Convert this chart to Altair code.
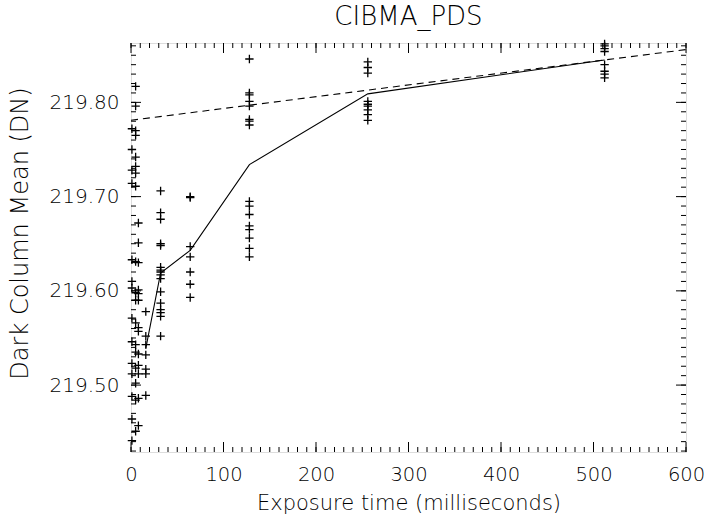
import altair as alt
import pandas as pd

# ---- data ----
exp_1 = [219.772, 219.750, 219.728, 219.714, 219.633, 219.610, 219.603, 219.571,
         219.546, 219.523, 219.512, 219.488, 219.464, 219.441]
exp_5 = [219.817, 219.796, 219.770, 219.765, 219.742, 219.732, 219.725, 219.711,
         219.631, 219.598, 219.590, 219.566, 219.543, 219.535, 219.518, 219.502,
         219.484, 219.451]
exp_8 = [219.672, 219.651, 219.630, 219.601, 219.597, 219.590, 219.561, 219.557,
         219.533, 219.521, 219.512, 219.486, 219.457]
exp_16 = [219.578, 219.552, 219.543, 219.532, 219.517, 219.512, 219.489]
exp_32 = [219.706, 219.683, 219.676, 219.650, 219.648, 219.625, 219.622, 219.620,
          219.617, 219.613, 219.599, 219.587, 219.580, 219.577, 219.573, 219.552]
exp_64 = [219.700, 219.699, 219.647, 219.636, 219.620, 219.607, 219.593]
exp_128 = [219.846, 219.810, 219.808, 219.801, 219.796, 219.782, 219.780, 219.776,
           219.695, 219.690, 219.681, 219.669, 219.665, 219.656, 219.645, 219.636]
exp_256 = [219.843, 219.837, 219.831, 219.801, 219.798, 219.796, 219.792, 219.787,
           219.781]
exp_512 = [219.862, 219.860, 219.857, 219.854, 219.840, 219.833, 219.830, 219.826]

groups = {1: exp_1, 5: exp_5, 8: exp_8, 16: exp_16, 32: exp_32, 64: exp_64,
          128: exp_128, 256: exp_256, 512: exp_512}

mean_t = [16, 32, 64, 128, 256, 512]
mean_v = [219.539, 219.619, 219.643, 219.734, 219.809, 219.845]

fit_t = [0, 600]
fit_v = [219.781, 219.856]

x_major = [0, 100, 200, 300, 400, 500, 600]
x_minor = [v for v in range(0, 601, 10)]
y_major = [219.5, 219.6, 219.7, 219.8]
y_minor = [round(219.43 + 0.01 * i, 2) for i in range(44)]

# ---- tables ----
pts = pd.DataFrame([{"t": t, "v": v} for t, vals in groups.items() for v in vals])
mean_df = pd.DataFrame({"t": mean_t, "v": mean_v})
fit_df = pd.DataFrame({"t": fit_t, "v": fit_v})
xmaj_df = pd.DataFrame({"t": x_major})
xmin_df = pd.DataFrame({"t": x_minor})
ymaj_df = pd.DataFrame({"v": y_major})
ymin_df = pd.DataFrame({"v": y_minor})

W, H = 555, 409
FONT = "DejaVu Sans"
FW = 200

xscale = alt.Scale(domain=[0, 600], nice=False, zero=False)
yscale = alt.Scale(domain=[219.429, 219.863], nice=False, zero=False)

xaxis = alt.Axis(values=x_major, format="d", ticks=False, domain=False, grid=False,
                 labelFlush=False, labelOverlap=False,
                 labelFontSize=19.5, labelFont=FONT, labelFontWeight=FW,
                 labelColor="black", labelPadding=13,
                 title="Exposure time (milliseconds)", titleFont=FONT,
                 titleFontSize=21, titleFontWeight=FW, titleColor="black",
                 titlePadding=9)
yaxis = alt.Axis(values=y_major, format=".2f", ticks=False, domain=False, grid=False,
                 labelFlush=False, labelOverlap=False,
                 labelFontSize=20, labelFont=FONT, labelFontWeight=FW,
                 labelColor="black", labelPadding=12,
                 title="Dark Column Mean (DN)", titleFont=FONT,
                 titleFontSize=24, titleFontWeight=FW, titleColor="black",
                 titleX=-111, titleY=190, titleBaseline="middle")

points = alt.Chart(pts).mark_point(
    shape="M-1,0L1,0M0,-1L0,1", filled=False, stroke="black", strokeWidth=1.3,
    size=70, opacity=1
).encode(x=alt.X("t:Q", scale=xscale, axis=xaxis),
         y=alt.Y("v:Q", scale=yscale, axis=yaxis))

mean_line = alt.Chart(mean_df).mark_line(color="black", strokeWidth=1.1).encode(
    x=alt.X("t:Q", scale=xscale), y=alt.Y("v:Q", scale=yscale))

fit_line = alt.Chart(fit_df).mark_line(color="black", strokeWidth=1.1,
                                       strokeDash=[7, 5]).encode(
    x=alt.X("t:Q", scale=xscale), y=alt.Y("v:Q", scale=yscale))

def xticks(df, length):
    bot = alt.Chart(df).mark_rule(color="black", strokeWidth=1).encode(
        x=alt.X("t:Q", scale=xscale), y=alt.value(H), y2=alt.value(H - length))
    top = alt.Chart(df).mark_rule(color="black", strokeWidth=1).encode(
        x=alt.X("t:Q", scale=xscale), y=alt.value(0), y2=alt.value(length))
    return bot + top

def yticks(df, length):
    left = alt.Chart(df).mark_rule(color="black", strokeWidth=1).encode(
        y=alt.Y("v:Q", scale=yscale), x=alt.value(0), x2=alt.value(length))
    right = alt.Chart(df).mark_rule(color="black", strokeWidth=1).encode(
        y=alt.Y("v:Q", scale=yscale), x=alt.value(W), x2=alt.value(W - length))
    return left + right

chart = alt.layer(
    xticks(xmin_df, 5), xticks(xmaj_df, 10),
    yticks(ymin_df, 5), yticks(ymaj_df, 10),
    fit_line, mean_line, points
).properties(
    width=W, height=H,
    title=alt.TitleParams("CIBMA_PDS", font=FONT, fontSize=26, fontWeight=FW,
                          color="black", anchor="middle", offset=7),
    autosize=alt.AutoSizeParams(type="none"),
    padding={"left": 131, "top": 43, "right": 24, "bottom": 71},
).configure_view(stroke="black", strokeWidth=1.2).configure(background="white")

chart.save("out.html", embed_options={"renderer": "svg", "actions": False})
